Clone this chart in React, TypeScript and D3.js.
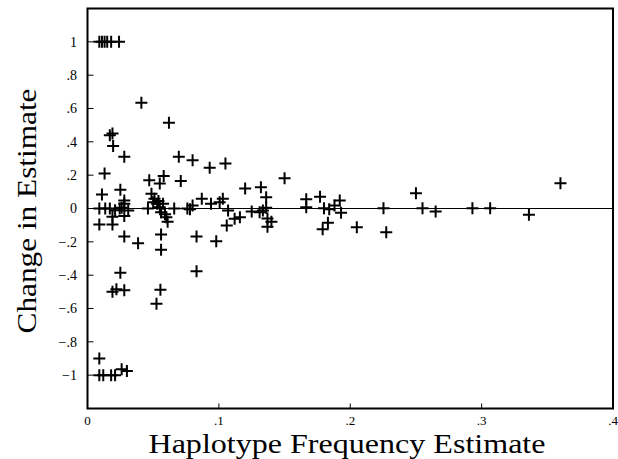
import React from 'react';
import * as d3 from 'd3';

// haplotype frequency estimate (x) and change in estimate (y)
const freq = [
  0.009, 0.011, 0.013, 0.015, 0.018, 0.024,
  0.009, 0.009, 0.012, 0.018, 0.021, 0.026, 0.030,
  0.041, 0.062, 0.017, 0.019, 0.0195, 0.028, 0.013, 0.0695, 0.080, 0.093, 0.105,
  0.047, 0.058, 0.055, 0.071, 0.120, 0.132, 0.150, 0.025, 0.011, 0.0487,
  0.009, 0.0135, 0.017, 0.021, 0.0245, 0.028, 0.028, 0.031, 0.026,
  0.009, 0.019, 0.019, 0.028, 0.028, 0.0385, 0.025, 0.019, 0.022, 0.028,
  0.046, 0.051, 0.053, 0.055, 0.0575, 0.056, 0.059, 0.060, 0.061, 0.050, 0.054,
  0.056, 0.056, 0.0555, 0.0525, 0.083, 0.083, 0.098,
  0.066, 0.078, 0.080, 0.087, 0.094, 0.1006, 0.103, 0.107, 0.106, 0.112, 0.116, 0.125, 0.076,
  0.136, 0.1335, 0.136, 0.131, 0.137, 0.137, 0.140,
  0.1665, 0.1665, 0.177, 0.180, 0.179, 0.184, 0.188, 0.192, 0.193, 0.183, 0.205,
  0.2253, 0.2274, 0.250, 0.255, 0.265, 0.293, 0.3065, 0.336, 0.360,
];
const change = [
  1, 1, 1, 1, 1, 1,
  -0.90, -1, -1, -1, -1, -0.965, -0.975,
  0.635, 0.515, 0.44, 0.45, 0.375, 0.31, 0.21, 0.31, 0.29, 0.245, 0.27,
  0.17, 0.195, 0.15, 0.165, 0.12, 0.128, 0.182, 0.112, 0.084, 0.088,
  0, 0, 0, -0.01, 0, 0.028, 0.048, -0.012, 0.005,
  -0.096, -0.096, -0.05, -0.045, -0.168, -0.208, -0.385, -0.50, -0.485, -0.49,
  0, 0.058, 0.028, 0.008, 0.028, -0.022, -0.035, -0.052, -0.08, 0.038, 0.045,
  -0.156, -0.248, -0.488, -0.572, -0.168, -0.376, -0.196,
  0, -0.005, 0.018, 0.058, 0.028, 0.038, 0.058, -0.012, -0.102, -0.062, -0.052, -0.018, 0,
  0.068, -0.012, 0.005, -0.022, -0.06, -0.11, -0.08,
  0.055, 0.008, 0.07, 0.002, -0.125, -0.005, 0.018, 0.048, -0.025, -0.085, -0.112,
  0.002, -0.142, 0.092, 0.002, -0.018, 0.002, 0.002, -0.038, 0.152,
];
const xTicks = [0, 0.1, 0.2, 0.3, 0.4];
const yTicks = [1, 0.8, 0.6, 0.4, 0.2, 0, -0.2, -0.4, -0.6, -0.8, -1];

const W = 618;
const H = 459;
const left = 87.5, right = 613, top = 8.5, bottom = 408.5;
const serif = 'Liberation Serif, Times New Roman, DejaVu Serif, serif';

// 0.2 -> ".2", -0.4 -> "−.4", 1 -> "1"
const fmt = (v: number) => {
  if (v === 0) return '0';
  const s = d3.format('.1~f')(Math.abs(v)).replace(/^0\./, '.');
  return (v < 0 ? '\u2212' : '') + s;
};

export default function App() {
  const x = d3.scaleLinear().domain([0, 0.4]).range([left, right]);
  const y = d3.scaleLinear().domain([-1.2, 1.2]).range([bottom, top]);
  const pts = freq.map((f, i) => ({ f, c: change[i] }));
  const arm = 6;

  return (
    <svg width={W} height={H} style={{ position: 'absolute', left: 0, top: 0, background: '#fff', fontFamily: serif }}>
      <rect x={0} y={0} width={W} height={H} fill="#fff" />
      {/* zero line */}
      <line x1={left} x2={right} y1={y(0)} y2={y(0)} stroke="#000" strokeWidth={1.2} />

      {/* y ticks */}
      {yTicks.map(t => (
        <g key={'y' + t}>
          <line x1={left} x2={left + 6} y1={y(t)} y2={y(t)} stroke="#000" strokeWidth={1} />
          <text x={77} y={y(t)} dy="0.35em" textAnchor="end" style={{ fontFamily: serif, fontSize: 14 }}>
            {fmt(t)}
          </text>
        </g>
      ))}
      {/* x ticks */}
      {xTicks.map(t => (
        <g key={'x' + t}>
          <line x1={x(t)} x2={x(t)} y1={bottom} y2={bottom - 5} stroke="#000" strokeWidth={1} />
          <text x={x(t)} y={425} textAnchor="middle" style={{ fontFamily: serif, fontSize: 13 }}>
            {fmt(t)}
          </text>
        </g>
      ))}

      {/* points */}
      {pts.map((p, i) => (
        <path
          key={i}
          d={`M${x(p.f) - arm},${y(p.c)}H${x(p.f) + arm}M${x(p.f)},${y(p.c) - arm}V${y(p.c) + arm}`}
          stroke="#000"
          strokeWidth={2}
          fill="none"
        />
      ))}

      {/* frame */}
      <rect x={left} y={top} width={right - left} height={bottom - top} fill="none" stroke="#000" strokeWidth={2} />

      <text x={347} y={453} textAnchor="middle" textLength={397} lengthAdjust="spacingAndGlyphs"
        style={{ fontFamily: serif, fontSize: 28 }}>
        Haplotype Frequency Estimate
      </text>
      <text transform="translate(36,211) rotate(-90)" textAnchor="middle" textLength={245} lengthAdjust="spacingAndGlyphs"
        style={{ fontFamily: serif, fontSize: 28 }}>
        Change in Estimate
      </text>
    </svg>
  );
}
